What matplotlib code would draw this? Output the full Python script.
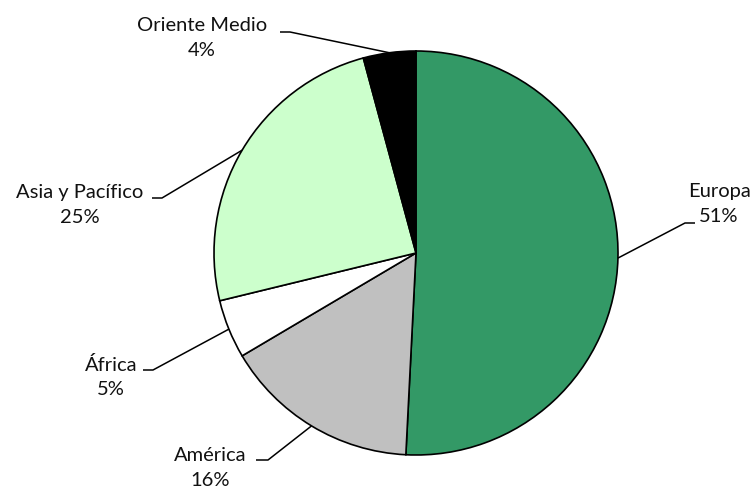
import numpy as np
import matplotlib.pyplot as plt

plt.rcParams['font.family'] = ['Lato', 'DejaVu Sans']

regions = ['Europa', 'América', 'África', 'Asia y Pacífico', 'Oriente Medio']
shares = [50.8, 15.7, 4.7, 24.6, 4.2]
colors = ['#339966', '#C0C0C0', '#FFFFFF', '#CCFFCC', '#000000']

# label layout in pixel coords (y measured from top): text centre, leader elbow start/end
text_pos = [(719, 204), (210, 468), (111, 377), (80, 205), (202, 38)]
elbow = [((695, 223), (685, 223)), ((256, 460), (268, 460)), ((143, 370), (153, 370)),
         ((152, 198), (162, 198)), ((280, 32), (290, 32))]

W, H = 756, 491
cx, cy, r = 416, 253, 202

fig = plt.figure(figsize=(W / 100, H / 100), dpi=100)
ax = fig.add_axes([0, 0, 1, 1])

wedges, _ = ax.pie(shares, colors=colors, startangle=90, counterclock=False,
                   center=(cx, H - cy), radius=r,
                   wedgeprops=dict(edgecolor='black', linewidth=1.2))

for w, name, val, tp, (e0, e1) in zip(wedges, regions, shares, text_pos, elbow):
    mid = np.deg2rad((w.theta1 + w.theta2) / 2)
    px = cx + r * np.cos(mid)
    py = (H - cy) + r * np.sin(mid)
    ax.plot([e0[0], e1[0], px], [H - e0[1], H - e1[1], py], color='black', lw=1.1,
            solid_capstyle='butt')
    ax.text(tp[0], H - tp[1], f'{name}\n{round(val):d}%', ha='center', va='center',
            fontsize=14.5, linespacing=1.55, color='#111111')

ax.set_xlim(0, W)
ax.set_ylim(0, H)
ax.set_aspect('equal')
ax.axis('off')

fig.savefig('out.png', dpi=100)
